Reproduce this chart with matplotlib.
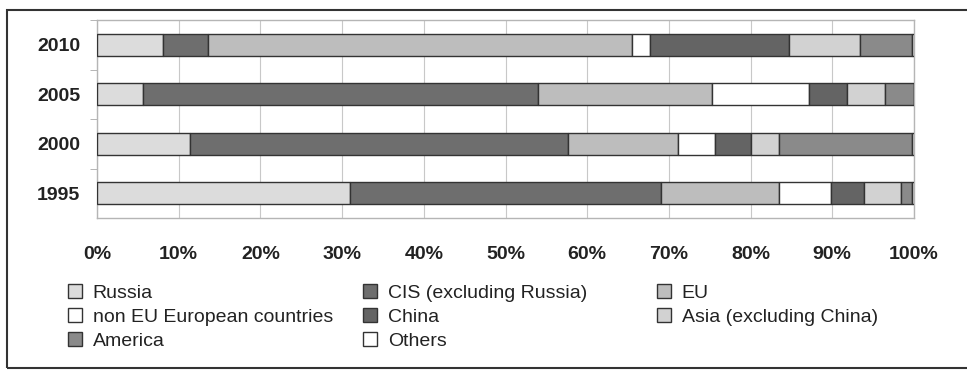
import matplotlib
matplotlib.use("Agg")
import matplotlib.pyplot as plt
from matplotlib.patches import Patch, Rectangle
import numpy as np

plt.rcParams['font.family'] = ['Liberation Sans', 'DejaVu Sans']

years = ['1995', '2000', '2005', '2010']
series = ['Russia', 'CIS (excluding Russia)', 'EU', 'non EU European countries',
          'China', 'Asia (excluding China)', 'America', 'Others']

# shares in % per year (1995, 2000, 2005, 2010)
russia  = [31.0, 11.4,  5.6,  8.1]
cis     = [38.0, 46.2, 48.4,  5.5]
eu      = [14.5, 13.5, 21.3, 51.9]
non_eu  = [ 6.3,  4.5, 11.8,  2.2]
china   = [ 4.1,  4.4,  4.7, 17.0]
asia    = [ 4.5,  3.5,  4.7,  8.7]
america = [ 1.4, 16.3,  3.5,  6.4]
others  = [ 0.2,  0.2,  0.0,  0.2]

colors = ['#dcdcdc', '#6e6e6e', '#bdbdbd', '#ffffff',
          '#646464', '#d2d2d2', '#8a8a8a', '#ffffff']

data = np.array([russia, cis, eu, non_eu, china, asia, america, others])
data = data / data.sum(axis=0) * 100

fig = plt.figure(figsize=(9.67, 3.72), dpi=100)
ax = fig.add_axes([97 / 967, 1 - 218 / 372, (914 - 97) / 967, (218 - 20) / 372])

y = np.arange(len(years))
left = np.zeros(len(years))
handles = []
for vals, name, c in zip(data, series, colors):
    ax.barh(y, vals, left=left, height=0.44, color=c, edgecolor='#333333',
            linewidth=1.0, zorder=3)
    left += vals
    handles.append(Patch(facecolor=c, edgecolor='#333333', linewidth=1.0, label=name))

ax.set_xlim(0, 100)
ax.set_ylim(-0.5, 3.5)
ax.set_xticks(np.arange(0, 101, 10))
ax.set_xticklabels([f'{v}%' for v in range(0, 101, 10)], fontsize=14, fontweight='bold',
                   color='#222222')
ax.set_yticks(y)
ax.set_yticklabels(years, fontsize=14, fontweight='bold', color='#222222')
ax.set_yticks([0.5, 1.5, 2.5, 3.5], minor=True)
ax.tick_params(axis='x', length=0, pad=20)
ax.tick_params(axis='y', which='major', length=0, pad=12)
ax.tick_params(axis='y', which='minor', length=5, color='#aaaaaa')
ax.grid(axis='x', color='#c8c8c8', linewidth=0.8, zorder=0)
for s in ax.spines.values():
    s.set_color('#b5b5b5')
    s.set_linewidth(1.0)

# legend: three fixed-position columns, read row-wise like the original
columns = [[0, 3, 6], [1, 4, 7], [2, 5]]
col_x = [68, 363, 657]
for idx, x0 in zip(columns, col_x):
    fig.legend([handles[i] for i in idx], [series[i] for i in idx],
               loc='upper left', bbox_to_anchor=(x0 / 967, 1 - 284 / 372),
               frameon=False, fontsize=14, handlelength=0.72, handleheight=0.72,
               handletextpad=0.55, labelspacing=0.32, borderpad=0, borderaxespad=0,
               labelcolor='#222222')

fig.patches.append(Rectangle((7 / 967, 4 / 372), 1.0, 1 - 14 / 372, transform=fig.transFigure,
                             fill=False, edgecolor='#333333', linewidth=1.5))

fig.savefig('out.png', dpi=100)
